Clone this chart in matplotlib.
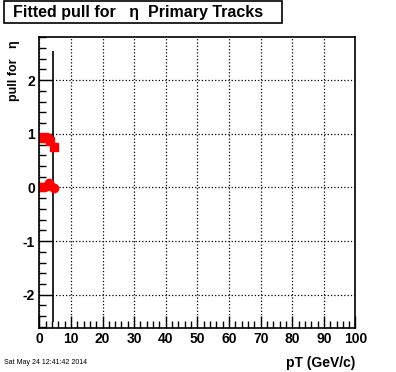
import numpy as np
import matplotlib
matplotlib.use("Agg")
import matplotlib.pyplot as plt
from matplotlib.ticker import MultipleLocator
from matplotlib.patches import Rectangle

plt.rcParams['font.family'] = ['Liberation Sans', 'DejaVu Sans']
plt.rcParams['axes.unicode_minus'] = False

# pull for eta vs pT : squares near 1 are sigma, circles near 0 are mean
pt_sigma = [0.5, 1.5, 2.5, 3.5, 4.5]
sigma = [0.93, 0.94, 0.93, 0.86, 0.76]
pt_mean = [0.5, 1.5, 2.5, 3.0, 3.5, 4.5]
mean = [0.0, 0.01, 0.03, 0.08, 0.05, -0.01]

line_pt = 4.4
line_lo, line_hi = -2.5, 2.54

fig = plt.figure(figsize=(3.96, 3.72), dpi=100)
ax = fig.add_axes([0.0992, 0.1183, 0.7985, 0.7814])

ax.set_xlim(0, 100)
ax.set_ylim(-2.62, 2.8)

ax.vlines(line_pt, line_lo, line_hi, color='k', lw=1.2)
ax.plot(pt_sigma, sigma, 's', color='red', ms=6, mec='red')
ax.plot(pt_mean, mean, 'o', color='red', ms=6, mec='red')

ax.xaxis.set_major_locator(MultipleLocator(10))
ax.xaxis.set_minor_locator(MultipleLocator(2))
ax.yaxis.set_major_locator(MultipleLocator(1))
ax.yaxis.set_minor_locator(MultipleLocator(0.2))
ax.tick_params(which='both', direction='in', top=False, right=False,
               width=1, labelsize=10)
ax.tick_params(which='major', length=9, pad=3)
ax.tick_params(which='minor', length=5)
for lab in ax.get_xticklabels() + ax.get_yticklabels():
    lab.set_fontweight('bold')
ax.grid(True, which='major', color='k', ls=':', lw=0.9)
for s in ax.spines.values():
    s.set_linewidth(1.2)

ax.set_xlabel("pT (GeV/c)", fontsize=10, fontweight='bold', loc='right')
ax.set_ylabel("pull for   \u03b7", fontsize=9, fontweight='bold', loc='top')
ax.xaxis.set_label_coords(1.0, -0.095, transform=ax.transAxes)
ax.yaxis.set_label_coords(-0.062, 0.99)

# title box
fig.patches.append(Rectangle((4 / 396, 1 - 22.5 / 372), 278 / 396, 21.5 / 372,
                             transform=fig.transFigure, fill=False,
                             ec='k', lw=1.2))
fig.text(13 / 396, 1 - 12 / 372, "Fitted pull for   \u03b7  Primary Tracks",
         ha='left', va='center', fontsize=11.5, fontweight='bold')

fig.text(4 / 396, 1 - 363 / 372, "Sat May 24 12:41:42 2014",
         ha='left', va='center', fontsize=5)

fig.savefig("out.png", dpi=100)
